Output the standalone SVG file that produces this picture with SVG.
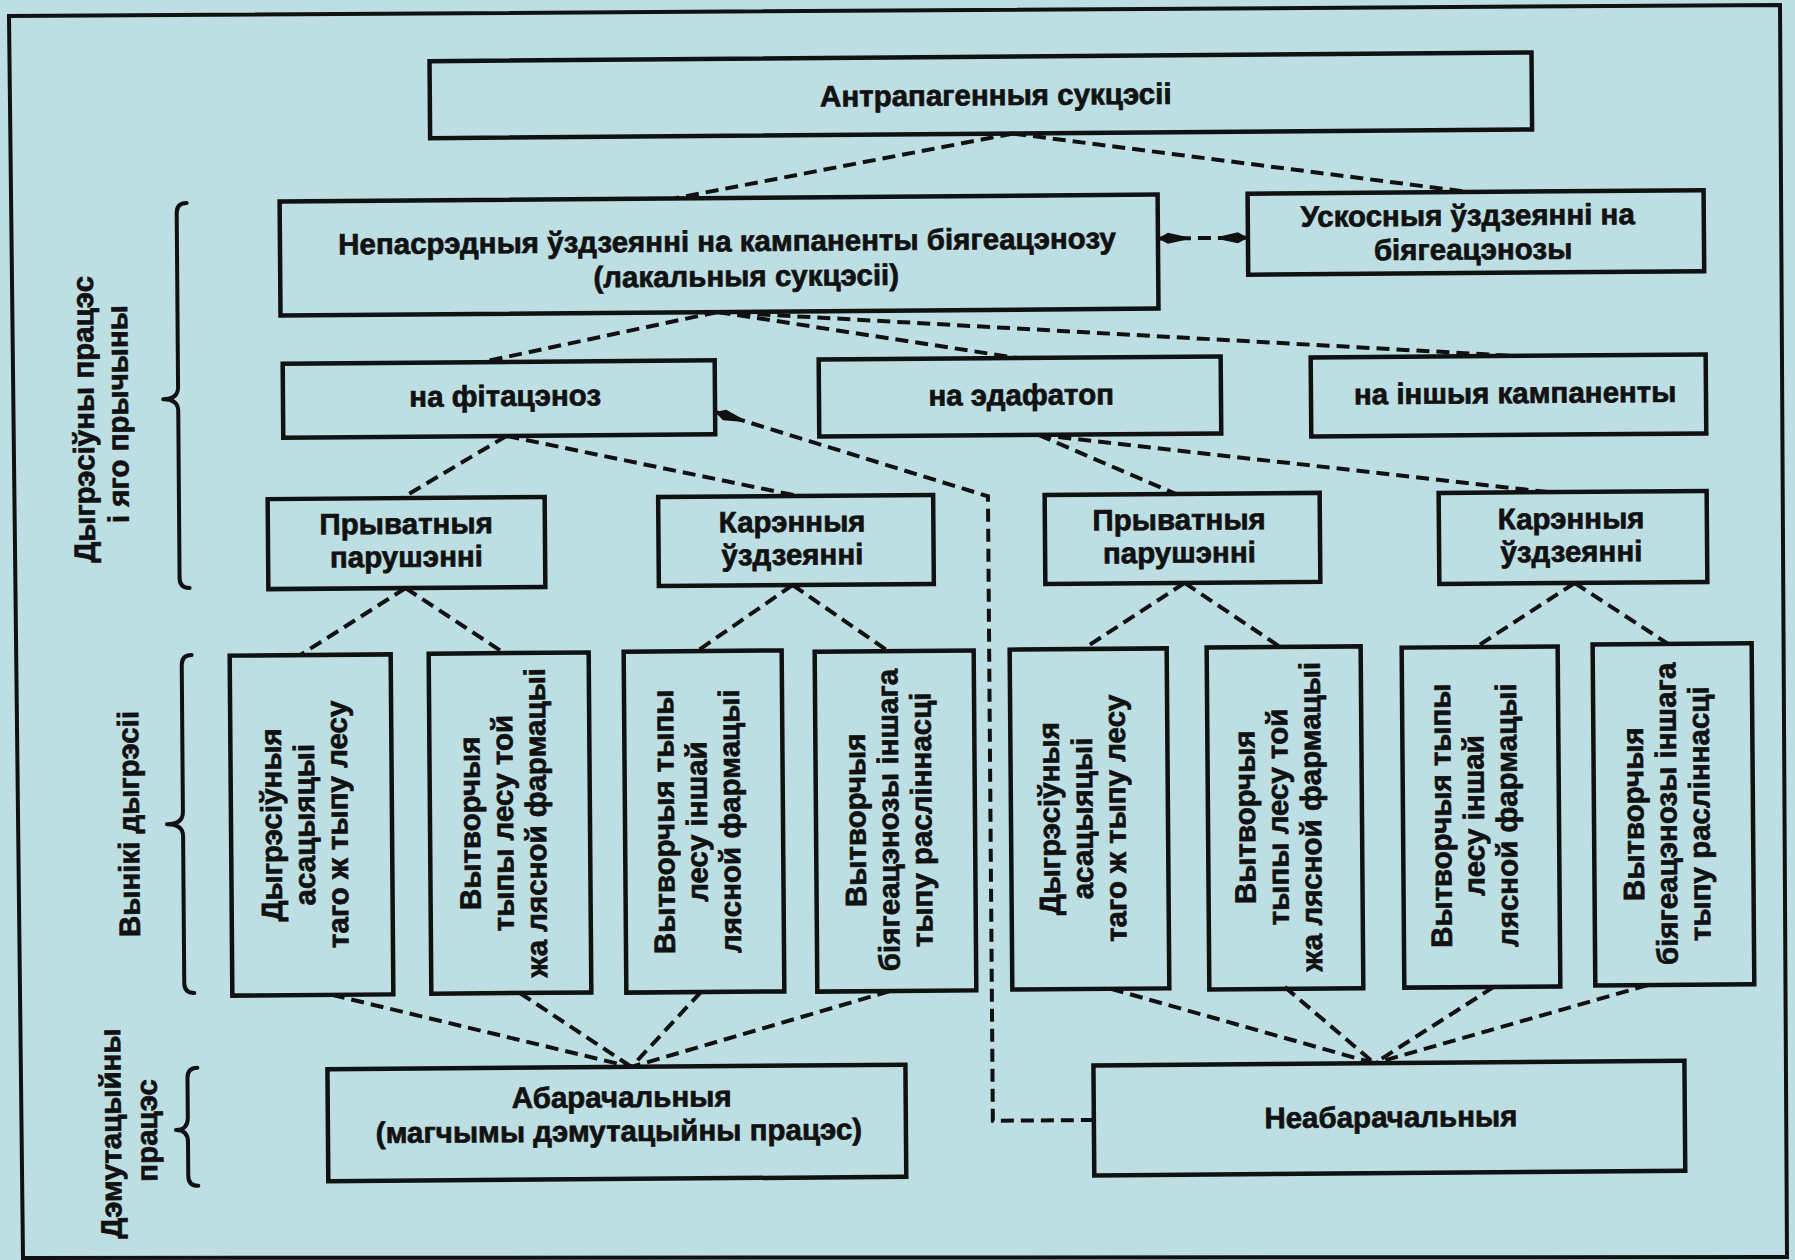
<svg xmlns="http://www.w3.org/2000/svg" width="1795" height="1260" viewBox="0 0 1795 1260">
<style>
.box{fill:none;stroke:#111;stroke-width:4.5}
.t{font-family:"Liberation Sans",Arial,sans-serif;font-weight:bold;font-size:29.5px;fill:#111;stroke:#111;stroke-width:0.7;text-anchor:middle}
.c{fill:none;stroke:#111;stroke-width:4;stroke-dasharray:13 7}
.br{fill:none;stroke:#111;stroke-width:4;stroke-linecap:round;stroke-linejoin:round}
</style>
<defs>
<marker id="ah" viewBox="0 0 30 12" refX="30" refY="6" markerWidth="30" markerHeight="12" markerUnits="userSpaceOnUse" orient="auto-start-reverse">
<path d="M30,6 L20,0.5 L2,4.5 L2,7.5 L20,11.5 Z" fill="#111"/>
</marker>
</defs>
<rect width="1795" height="1260" fill="#bddfe3"/>
<polygon points="9,16 1780,5 1787,1257 23,1258" fill="none" stroke="#111" stroke-width="4"/>
<g transform="rotate(-0.45 897 630)">
<g id="connectors">
<line class="c" x1="1017" y1="134.5" x2="678" y2="196.6"/>
<line class="c" x1="1017" y1="134.5" x2="1472" y2="196.5"/>
<line class="c" x1="720" y1="310.6" x2="484" y2="358.9"/>
<line class="c" x1="720" y1="310.6" x2="1020" y2="359"/>
<line class="c" x1="720" y1="310.6" x2="1517" y2="360.8"/>
<line class="c" x1="508" y1="432.9" x2="403" y2="494.2"/>
<line class="c" x1="508" y1="432.9" x2="799" y2="495.2"/>
<line class="c" x1="1040" y1="436" x2="1177" y2="496.2"/>
<line class="c" x1="1040" y1="436" x2="1550" y2="497.3"/>
<line class="c" x1="406" y1="584.2" x2="300" y2="650.4"/>
<line class="c" x1="406" y1="584.2" x2="504" y2="650"/>
<line class="c" x1="793" y1="584.2" x2="697" y2="649.5"/>
<line class="c" x1="793" y1="584.2" x2="888" y2="651"/>
<line class="c" x1="1185" y1="585.2" x2="1083" y2="650.5"/>
<line class="c" x1="1185" y1="585.2" x2="1280" y2="650"/>
<line class="c" x1="1575" y1="588.3" x2="1476" y2="651.6"/>
<line class="c" x1="1575" y1="588.3" x2="1668" y2="650"/>
<line class="c" x1="329" y1="990.4" x2="628" y2="1064.8"/>
<line class="c" x1="517" y1="990" x2="628" y2="1064.8"/>
<line class="c" x1="698" y1="990.5" x2="628" y2="1064.8"/>
<line class="c" x1="887" y1="991" x2="628" y2="1064.8"/>
<line class="c" x1="1108" y1="990.5" x2="1371" y2="1067"/>
<line class="c" x1="1282" y1="990" x2="1371" y2="1067"/>
<line class="c" x1="1491" y1="991.6" x2="1371" y2="1067"/>
<line class="c" x1="1645" y1="991" x2="1371" y2="1067"/>
<polyline class="c" points="1090,1121.5 989,1121.5 989,497 716.8,410.6" marker-end="url(#ah)"/>
<line class="c" x1="1161" y1="240.5" x2="1251" y2="240.5" marker-start="url(#ah)" marker-end="url(#ah)"/>
</g>
<g id="n-antra">
<rect class="box" x="434" y="57.5" width="1102" height="77"/>
<text class="t" x="1000" y="106">Антрапагенныя сукцэсіі</text>
</g>
<g id="n-nepasrednyja">
<rect class="box" x="283" y="196.6" width="878" height="114"/>
<text class="t" x="730" y="250">Непасрэдныя ўздзеянні на кампаненты біягеацэнозу</text>
<text class="t" x="749" y="285">(лакальныя сукцэсіі)</text>
</g>
<g id="n-uskosnyja">
<rect class="box" x="1251" y="196.5" width="456" height="81"/>
<text class="t" x="1471" y="230">Ускосныя ўздзеянні на</text>
<text class="t" x="1476" y="264">біягеацэнозы</text>
</g>
<g id="n-fitacenoz">
<rect class="box" x="284.8" y="358.9" width="432" height="74"/>
<text class="t" x="507" y="403">на фітацэноз</text>
</g>
<g id="n-edafatop">
<rect class="box" x="820.8" y="359" width="402" height="77"/>
<text class="t" x="1023" y="406">на эдафатоп</text>
</g>
<g id="n-inshyja">
<rect class="box" x="1312.8" y="360.8" width="395" height="79"/>
<text class="t" x="1517" y="408">на іншыя кампаненты</text>
</g>
<g id="n-pryvatnyja-1">
<rect class="box" x="268.7" y="494.2" width="277" height="90"/>
<text class="t" x="407" y="530">Прыватныя</text>
<text class="t" x="407" y="563">парушэнні</text>
</g>
<g id="n-karennyja-1">
<rect class="box" x="659.2" y="495.2" width="275" height="89"/>
<text class="t" x="793" y="531">Карэнныя</text>
<text class="t" x="793" y="564">ўздзеянні</text>
</g>
<g id="n-pryvatnyja-2">
<rect class="box" x="1045.7" y="496.2" width="275" height="89"/>
<text class="t" x="1180" y="532">Прыватныя</text>
<text class="t" x="1180" y="565">парушэнні</text>
</g>
<g id="n-karennyja-2">
<rect class="box" x="1439.7" y="497.3" width="268" height="91"/>
<text class="t" x="1572" y="534">Карэнныя</text>
<text class="t" x="1572" y="567">ўздзеянні</text>
</g>
<g id="n-t1">
<rect class="box" x="229.5" y="650.4" width="161" height="340"/>
<g transform="translate(310 820) rotate(-90)">
<text class="t" y="-30">Дыгрэсіўныя</text>
<text class="t" y="3">асацыяцыі</text>
<text class="t" y="36">таго ж тыпу лесу</text>
</g>
</g>
<g id="n-t2">
<rect class="box" x="428.5" y="650" width="160" height="340"/>
<g transform="translate(508.5 820) rotate(-90)">
<text class="t" y="-30">Вытворчыя</text>
<text class="t" y="3">тыпы лесу той</text>
<text class="t" y="36">жа лясной фармацыі</text>
</g>
</g>
<g id="n-t3">
<rect class="box" x="623.5" y="649.5" width="158" height="341"/>
<g transform="translate(702.5 820) rotate(-90)">
<text class="t" y="-30">Вытворчыя тыпы</text>
<text class="t" y="3">лесу іншай</text>
<text class="t" y="36">лясной фармацыі</text>
</g>
</g>
<g id="n-t4">
<rect class="box" x="814.5" y="651" width="159" height="340"/>
<g transform="translate(894 820) rotate(-90)">
<text class="t" y="-30">Вытворчыя</text>
<text class="t" y="3">біягеацэнозы іншага</text>
<text class="t" y="36">тыпу расліннасці</text>
</g>
</g>
<g id="n-t5">
<rect class="box" x="1009.5" y="650.5" width="157" height="340"/>
<g transform="translate(1088 820) rotate(-90)">
<text class="t" y="-30">Дыгрэсіўныя</text>
<text class="t" y="3">асацыяцыі</text>
<text class="t" y="36">таго ж тыпу лесу</text>
</g>
</g>
<g id="n-t6">
<rect class="box" x="1206.5" y="650" width="154" height="342"/>
<g transform="translate(1283.5 820) rotate(-90)">
<text class="t" y="-30">Вытворчыя</text>
<text class="t" y="3">тыпы лесу той</text>
<text class="t" y="36">жа лясной фармацыі</text>
</g>
</g>
<g id="n-t7">
<rect class="box" x="1401.5" y="651.6" width="156" height="340"/>
<g transform="translate(1479.5 820) rotate(-90)">
<text class="t" y="-30">Вытворчыя тыпы</text>
<text class="t" y="3">лесу іншай</text>
<text class="t" y="36">лясной фармацыі</text>
</g>
</g>
<g id="n-t8">
<rect class="box" x="1592.5" y="650" width="159" height="341"/>
<g transform="translate(1672 820) rotate(-90)">
<text class="t" y="-30">Вытворчыя</text>
<text class="t" y="3">біягеацэнозы іншага</text>
<text class="t" y="36">тыпу расліннасці</text>
</g>
</g>
<g id="n-abarachalnyja">
<rect class="box" x="324" y="1064.8" width="578" height="112"/>
<text class="t" x="618" y="1105">Абарачальныя</text>
<text class="t" x="615" y="1139">(магчымы дэмутацыйны працэс)</text>
</g>
<g id="n-neabarachalnyja">
<rect class="box" x="1090" y="1067" width="591" height="110"/>
<text class="t" x="1387" y="1131">Неабарачальныя</text>
</g>
<g id="side-labels">
<path class="br" d="M190,197.4 Q180,197.4 180,207.4 L180,381.4 Q180,393.4 165,393.4 Q180,393.4 180,405.4 L180,572.4 Q180,582.4 190,582.4"/>
<path class="br" d="M191.5,649.4 Q181.5,649.4 181.5,659.4 L181.5,806.4 Q181.5,818.4 165.5,818.4 Q181.5,818.4 181.5,830.4 L181.5,977.4 Q181.5,987.4 191.5,987.4"/>
<path class="br" d="M194,1062.3 Q184,1062.3 184,1072.3 L184,1112.3 Q184,1124.3 172,1124.3 Q184,1124.3 184,1136.3 L184,1170.3 Q184,1180.3 194,1180.3"/>
<text class="t" transform="translate(95.6 413) rotate(-90)">Дыгрэсіўны працэс</text>
<text class="t" transform="translate(129.7 408) rotate(-90)">і яго прычыны</text>
<text class="t" transform="translate(137.5 818) rotate(-90)">Вынікі дыгрэсіі</text>
<text class="t" transform="translate(117 1127.5) rotate(-90)">Дэмутацыйны</text>
<text class="t" transform="translate(153 1124.5) rotate(-90)">працэс</text>
</g>
</g>
</svg>
